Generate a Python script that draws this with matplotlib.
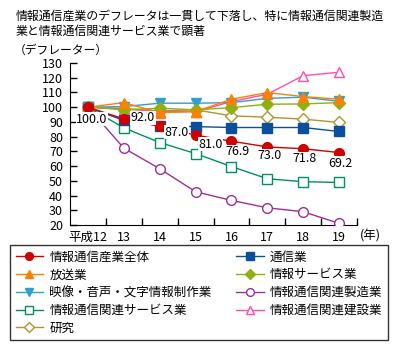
import matplotlib
matplotlib.use('Agg')
from matplotlib import pyplot as plt

plt.rcParams['font.family'] = ['Noto Sans CJK JP', 'DejaVu Sans']

W, H = 398, 357

years = [12, 13, 14, 15, 16, 17, 18, 19]
year_labels = ['平成12', '13', '14', '15', '16', '17', '18', '19']

total = [100.0, 92.0, 87.0, 81.0, 76.9, 73.0, 71.8, 69.2]
tsushin = [100, 91, 87.5, 86.8, 86.2, 86.2, 86.2, 83.5]
hoso = [100, 103.1, 96.3, 97, 105.4, 109.9, 107.2, 105.4]
joho_service = [100, 98.2, 99.3, 98.2, 99.7, 102, 102.2, 103.1]
eizo = [100, 100.4, 102.7, 102.7, 103.1, 106, 106.8, 104]
seizo = [100, 72.2, 58.2, 42.6, 36.7, 31.7, 29, 21.1]
kanren_service = [100, 86, 76, 68.5, 59.7, 51.4, 49.4, 48.9]
kensetsu = [100, 98.8, 97, 97, 103.8, 108.8, 121.4, 123.7]
kenkyu = [100, 99, 97.5, 98.2, 94.1, 93.2, 91.9, 89.6]

# (label, values, color, marker, filled)
series = [
    ('情報通信産業全体', total, '#d00000', 'o', True),
    ('通信業', tsushin, '#0a4f9e', 's', True),
    ('放送業', hoso, '#ff8000', '^', True),
    ('情報サービス業', joho_service, '#8fb012', 'D', True),
    ('映像・音声・文字情報制作業', eizo, '#2f9fcf', 'v', True),
    ('情報通信関連製造業', seizo, '#9b2f9b', 'o', False),
    ('情報通信関連サービス業', kanren_service, '#009060', 's', False),
    ('情報通信関連建設業', kensetsu, '#ff4fa8', '^', False),
    ('研究', kenkyu, '#b09530', 'D', False),
]

fig = plt.figure(figsize=(W / 100, H / 100), dpi=100)
ax = fig.add_axes([70 / W, 1 - 225 / H, 287 / W, 162 / H])

handles = {}
draw_order = [5, 6, 8, 1, 7, 4, 3, 2, 0]
for i in draw_order:
    name, vals, col, mk, filled = series[i]
    ms = 7 if mk != 'D' else 6
    h, = ax.plot(years, vals, color=col, lw=1, marker=mk, ms=ms,
                 markerfacecolor=col if filled else 'white',
                 markeredgecolor=col, markeredgewidth=1, label=name,
                 zorder=3 + (i == 0))
    handles[i] = h

# data labels for the total series
offs = [(4, -12), (19, 1), (17, -6), (15, -9), (6, -10.5), (2, -9), (1, -10), (1, -10.5)]
for x, v, (dx, dy) in zip(years, total, offs):
    ax.annotate('%.1f' % v, (x, v), xytext=(dx, dy), textcoords='offset pixels',
                ha='center', va='center', fontsize=9, zorder=5,
                bbox=dict(boxstyle='square,pad=0.05', fc='white', ec='none'))

ax.set_xlim(11.5, 19.5)
ax.set_ylim(20, 130)
ax.set_yticks(range(20, 131, 10))
ax.set_xticks([y + 0.5 for y in years[:-1]] + [19.5])
ax.set_xticks(years, minor=True)
ax.set_xticklabels([])
ax.set_xticklabels(year_labels, minor=True)
ax.tick_params(axis='x', which='minor', length=0, labelsize=9, pad=4)
ax.tick_params(axis='x', which='major', direction='in', length=5, width=1)
ax.tick_params(axis='y', direction='in', length=5, width=1, labelsize=9, pad=5)
for s in ['top', 'right']:
    ax.spines[s].set_visible(False)
ax.patch.set_alpha(0)

fig.text(360 / W, 1 - 236 / H, '(年)', fontsize=9, va='center', ha='left')
fig.text(16 / W, 1 - 16 / H, '情報通信産業のデフレータは一貫して下落し、特に情報通信関連製造',
         fontsize=8.6, va='center', ha='left')
fig.text(16 / W, 1 - 31 / H, '業と情報通信関連サービス業で顕著',
         fontsize=8.6, va='center', ha='left')
fig.text(14 / W, 1 - 50 / H, '（デフレーター）', fontsize=8.5, va='center', ha='left')

order = [0, 2, 4, 6, 8, 1, 3, 5, 7]
leg = fig.legend([handles[i] for i in order], [series[i][0] for i in order],
                 loc='upper left', bbox_to_anchor=(10 / W, 1 - 245 / H, 378 / W, 0),
                 mode='expand', ncol=2, fontsize=9, frameon=True, fancybox=False,
                 edgecolor='black', handlelength=2.2, handletextpad=0.5,
                 labelspacing=0.38, borderpad=0.45, borderaxespad=0,
                 markerscale=0.8)
leg.get_frame().set_linewidth(1)

fig.savefig('out.png', dpi=100)
